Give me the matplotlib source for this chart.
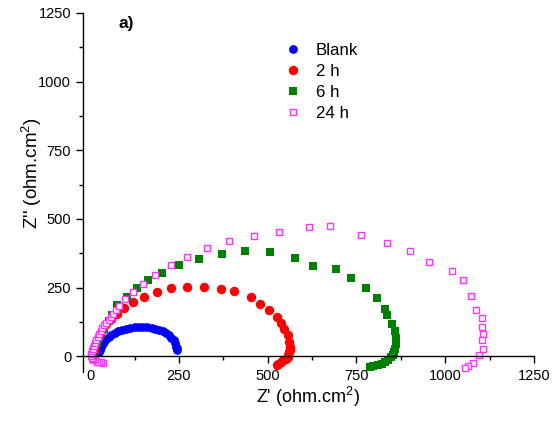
import matplotlib
matplotlib.use("Agg")
import matplotlib.pyplot as plt
from matplotlib.ticker import MultipleLocator

plt.rcParams['font.family'] = ['Liberation Sans', 'DejaVu Sans']
plt.rcParams['mathtext.fontset'] = 'custom'
plt.rcParams['mathtext.rm'] = 'Liberation Sans'
plt.rcParams['mathtext.default'] = 'regular'

# Nyquist data (Z', Z'')
blank_re = [245, 244, 243, 240, 235, 229, 222, 214, 205, 195, 184, 173, 161, 149,
            137, 125, 113, 101, 90, 79, 69, 60, 52, 45, 39, 34, 30, 27, 24]
blank_im = [22, 29, 35, 47, 58, 68, 77, 85, 92, 97, 101, 104, 106, 107,
            107, 106, 104, 101, 97, 92, 86, 79, 71, 62, 53, 43, 33, 24, 15]

h2_re = [8, 10, 14, 20, 27, 35, 46, 58, 75, 96, 122, 152, 188, 227, 274, 321,
         368, 404, 453, 479, 504, 526, 538, 547, 556, 561, 563, 562, 561, 558,
         556, 551, 544, 537, 530, 526]
h2_im = [5, 20, 40, 60, 80, 100, 119, 137, 155, 176, 196, 217, 234, 249, 253, 253,
         244, 237, 216, 192, 168, 143, 121, 101, 77, 52, 34, 22, 16, 5,
         -2, -9, -15, -21, -27, -30]

h6_re = [8, 12, 18, 27, 38, 52, 62, 75, 103, 131, 164, 202, 251, 308, 372, 436,
         507, 578, 627, 693, 735, 777, 807, 831, 837, 849, 859, 861, 862, 861,
         859, 856, 852, 846, 840, 831, 821, 810, 798, 788]
h6_im = [5, 25, 50, 75, 100, 130, 150, 186, 216, 247, 279, 305, 332, 356, 372, 383,
         380, 358, 329, 317, 285, 247, 213, 174, 152, 119, 91, 67, 56, 46,
         26, 16, 6, -3, -12, -20, -27, -32, -36, -39]

h24_re = [35, 30, 26, 20, 14, 8, 5, 3, 3, 5, 8, 10, 13, 17, 21, 25, 30, 34, 39,
          45, 52, 58, 64, 72, 80, 99, 122, 148, 183, 227, 274, 328, 390, 462,
          531, 616, 676, 762, 835, 901, 955, 1020, 1051, 1072, 1087, 1103, 1104,
          1107, 1104, 1105, 1096, 1079, 1063, 1056]
h24_im = [-24, -22, -21, -19, -15, -10, -5, 3, 10, 19, 28, 38, 48, 59, 70, 81, 92,
          102, 113, 123, 134, 145, 155, 168, 182, 207, 234, 262, 296, 332, 363,
          394, 419, 438, 453, 471, 474, 440, 413, 384, 343, 310, 277, 220, 168,
          140, 107, 83, 58, 28, 6, -24, -35, -43]

fig = plt.figure(figsize=(5.52, 4.23), dpi=100)
ax = fig.add_axes([0.1504, 0.1206, 0.817, 0.8487])

ax.plot(blank_re, blank_im, 'o', color='#0000ff', ms=6.3, mew=0, label='Blank')
ax.plot(h2_re, h2_im, 'o', color='#ff0000', ms=6.8, mew=0, label='2 h')
ax.plot(h6_re, h6_im, 's', color='#008000', ms=5.6, mew=0, label='6 h')
ax.plot(h24_re, h24_im, 's', color='#ff33ff', mfc='white', ms=5.0, mew=1.0,
        label='24 h')

ax.set_xlim(-20, 1250)
ax.set_ylim(-57, 1250)
ax.spines['top'].set_visible(False)
ax.spines['right'].set_visible(False)
ax.spines['bottom'].set_position(('data', 0))
for s in ('left', 'bottom'):
    ax.spines[s].set_linewidth(1.0)

ax.xaxis.set_major_locator(MultipleLocator(250))
ax.xaxis.set_minor_locator(MultipleLocator(125))
ax.yaxis.set_major_locator(MultipleLocator(250))
ax.yaxis.set_minor_locator(MultipleLocator(125))
ax.tick_params(which='major', length=5, width=1, labelsize=10.5, direction='out')
ax.tick_params(which='minor', length=3, width=1, direction='out')
ax.tick_params(axis='x', pad=4)

fig.text(0.558, 0.033, "Z' (ohm.cm$^2$)", ha='center', va='bottom', fontsize=13)
fig.text(0.057, 0.59, "Z'' (ohm.cm$^2$)", ha='center', va='center',
         rotation=90, fontsize=13.5)
ax.text(0.078, 0.97, 'a)', transform=ax.transAxes, fontsize=12.5,
        fontweight='bold', va='center')

ax.legend(loc='upper left', bbox_to_anchor=(0.428, 0.935), frameon=False,
          fontsize=12.2, handletextpad=0.75, labelspacing=0.36, borderaxespad=0,
          handlelength=1.2)

fig.savefig('out.png', dpi=100)
